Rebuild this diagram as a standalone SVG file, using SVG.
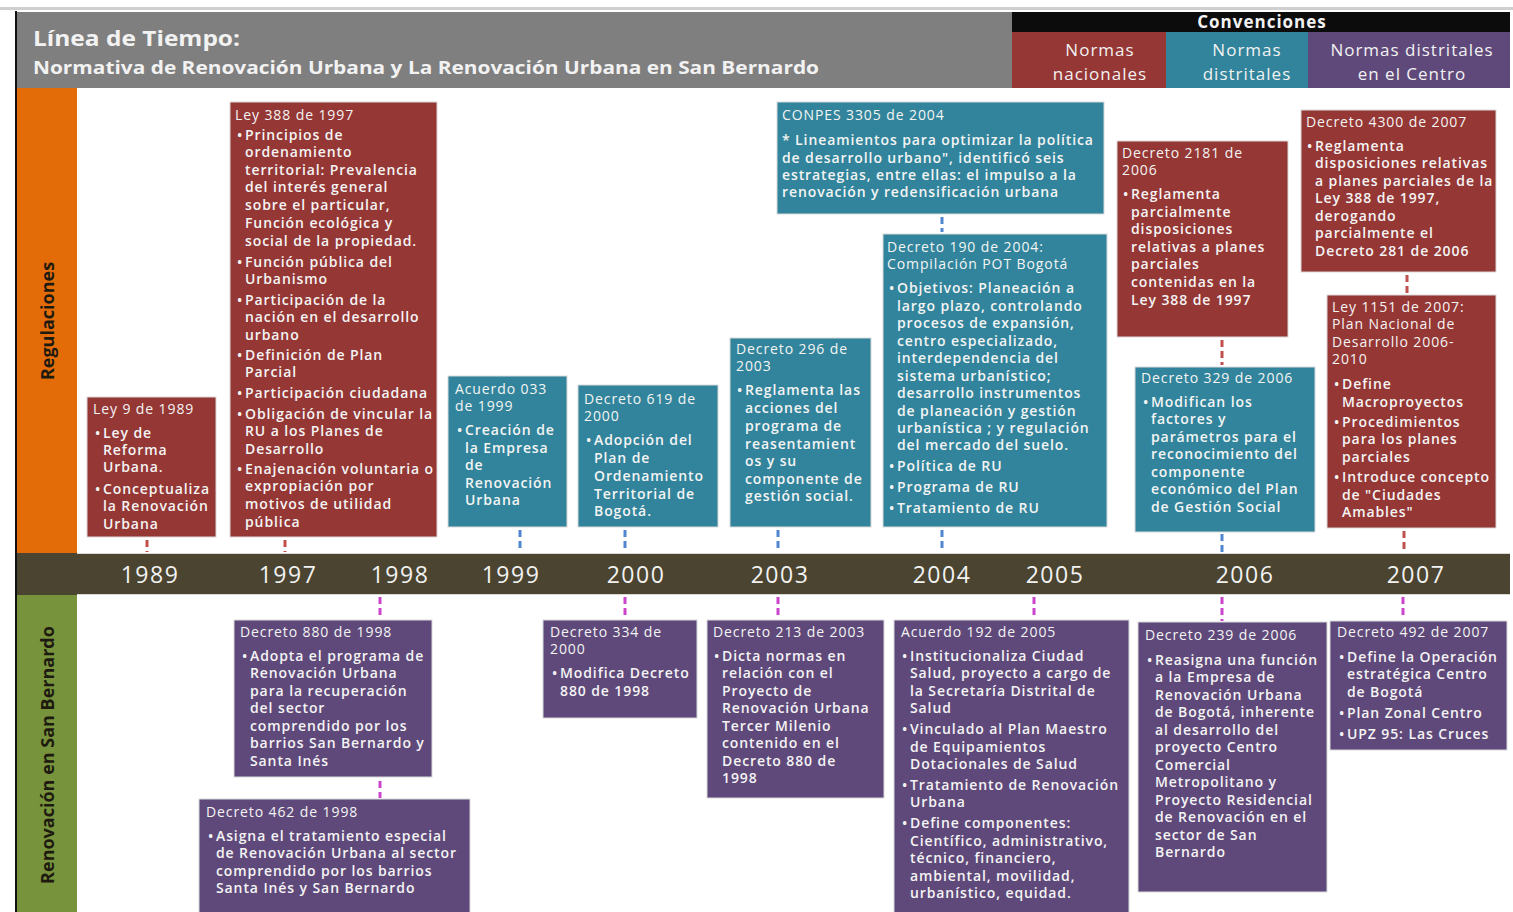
<svg xmlns="http://www.w3.org/2000/svg" width="1513" height="912" viewBox="0 0 1513 912">
<defs>
<style>
.t{font-family:"Open Sans","Liberation Sans",sans-serif;font-size:14px;letter-spacing:0.9px;fill:#f4f4f4}
.h{font-weight:400}
.b{font-weight:600}
.nat{fill:#953735;stroke:#d9d9d9;stroke-width:1}
.dis{fill:#31849b;stroke:#d9d9d9;stroke-width:1}
.cen{fill:#5f497a;stroke:#d9d9d9;stroke-width:1}
.yr{font-family:"Open Sans","Liberation Sans",sans-serif;font-size:23px;letter-spacing:1.5px;fill:#f2f2f2}
.cv{font-family:"Open Sans","Liberation Sans",sans-serif;font-size:17px;letter-spacing:1px;fill:#f2f2f2;text-anchor:middle}
.side{font-family:"Open Sans","Liberation Sans",sans-serif;font-size:18px;font-weight:700;fill:#1e1a10;text-anchor:middle}
.cr{stroke:#c0504d;stroke-width:3;stroke-dasharray:7 4;fill:none}
.cb{stroke:#4f86cf;stroke-width:3;stroke-dasharray:7 4;fill:none}
.cm{stroke:#cc44cc;stroke-width:3;stroke-dasharray:7 4;fill:none}
</style>
</defs>
<rect x="0" y="0" width="1513" height="912" fill="#ffffff"/>
<rect x="0" y="7" width="1513" height="3" fill="#cfcfcf"/>
<rect x="15" y="11" width="2" height="901" fill="#111"/>

<g id="header">
<rect x="17" y="12" width="995" height="76" fill="#7f7f7f"/>
<text x="33" y="46" font-family="Open Sans, Liberation Sans, sans-serif" font-size="21" font-weight="700" fill="#f2f2f2" textLength="207" lengthAdjust="spacingAndGlyphs">Línea de Tiempo:</text>
<text x="33" y="74" font-family="Open Sans, Liberation Sans, sans-serif" font-size="17.5" font-weight="700" fill="#f2f2f2" textLength="786" lengthAdjust="spacingAndGlyphs">Normativa de Renovación Urbana y La Renovación Urbana en San Bernardo</text>
</g>

<g id="convenciones">
<rect x="1012" y="12" width="498" height="20" fill="#0c0c0c"/>
<text x="1262" y="28" class="cv" font-weight="700" font-size="15" letter-spacing="0.5">Convenciones</text>
<rect x="1012" y="32" width="154" height="56" fill="#953735"/>
<rect x="1166" y="32" width="142" height="56" fill="#31849b"/>
<rect x="1308" y="32" width="202" height="56" fill="#5f497a"/>
<text class="cv"><tspan x="1100" y="56">Normas</tspan><tspan x="1100" y="80">nacionales</tspan></text>
<text class="cv"><tspan x="1247" y="56">Normas</tspan><tspan x="1247" y="80">distritales</tspan></text>
<text class="cv"><tspan x="1412" y="56">Normas distritales</tspan><tspan x="1412" y="80">en el Centro</tspan></text>
</g>

<g id="lane-regulaciones">
<rect x="17" y="88" width="60" height="465" fill="#e36c09"/>
<text class="side" transform="translate(54 321) rotate(-90)">Regulaciones</text>
</g>
<g id="lane-renovacion">
<rect x="17" y="595" width="60" height="317" fill="#77933c"/>
<text class="side" transform="translate(54 755) rotate(-90)">Renovación en San Bernardo</text>
</g>

<g id="timeline">
<rect x="17" y="553" width="1493" height="42" fill="#4a4430"/>
<rect x="77" y="553" width="1433" height="1" fill="#d8d8d0"/>
<rect x="77" y="594" width="1433" height="1" fill="#d8d8d0"/>
<g class="yr" text-anchor="middle">
<text x="150" y="583">1989</text>
<text x="288" y="583">1997</text>
<text x="400" y="583">1998</text>
<text x="511" y="583">1999</text>
<text x="636" y="583">2000</text>
<text x="780" y="583">2003</text>
<text x="942" y="583">2004</text>
<text x="1055" y="583">2005</text>
<text x="1245" y="583">2006</text>
<text x="1416" y="583">2007</text>
</g>
</g>

<g id="connectors">
<line class="cr" x1="147" y1="540" x2="147" y2="552"/>
<line class="cr" x1="285" y1="540" x2="285" y2="552"/>
<line class="cb" x1="520" y1="530" x2="520" y2="552"/>
<line class="cb" x1="625" y1="530" x2="625" y2="552"/>
<line class="cb" x1="778" y1="530" x2="778" y2="552"/>
<line class="cb" x1="942" y1="217" x2="942" y2="232"/>
<line class="cb" x1="942" y1="530" x2="942" y2="552"/>
<line class="cr" x1="1222" y1="340" x2="1222" y2="365"/>
<line class="cb" x1="1222" y1="534" x2="1222" y2="552"/>
<line class="cr" x1="1407" y1="275" x2="1407" y2="294"/>
<line class="cr" x1="1404" y1="531" x2="1404" y2="552"/>
<line class="cm" x1="380" y1="597" x2="380" y2="618"/>
<line class="cm" x1="380" y1="781" x2="380" y2="798"/>
<line class="cm" x1="625" y1="597" x2="625" y2="618"/>
<line class="cm" x1="778" y1="597" x2="778" y2="618"/>
<line class="cm" x1="1034" y1="597" x2="1034" y2="618"/>
<line class="cm" x1="1222" y1="597" x2="1222" y2="621"/>
<line class="cm" x1="1403" y1="597" x2="1403" y2="619"/>
</g>

<g id="ley9-1989">
<rect class="nat" x="87" y="397" width="129" height="140"/>
<text class="t h" x="93" y="414">Ley 9 de 1989</text>
<text class="t b"><tspan x="95" y="438">•</tspan><tspan x="103">Ley de</tspan><tspan x="103" y="455">Reforma</tspan><tspan x="103" y="472">Urbana.</tspan><tspan x="95" y="494">•</tspan><tspan x="103">Conceptualiza</tspan><tspan x="103" y="511">la Renovación</tspan><tspan x="103" y="529">Urbana</tspan></text>
</g>

<g id="ley388-1997">
<rect class="nat" x="230" y="102" width="207" height="435"/>
<text class="t h" x="235" y="120">Ley 388 de 1997</text>
<text class="t b"><tspan x="237" y="140">•</tspan><tspan x="245">Principios de</tspan><tspan x="245" y="157">ordenamiento</tspan><tspan x="245" y="175">territorial: Prevalencia</tspan><tspan x="245" y="192">del interés general</tspan><tspan x="245" y="210">sobre el particular,</tspan><tspan x="245" y="228">Función ecológica y</tspan><tspan x="245" y="246">social de la propiedad.</tspan><tspan x="237" y="267">•</tspan><tspan x="245">Función pública del</tspan><tspan x="245" y="284">Urbanismo</tspan><tspan x="237" y="305">•</tspan><tspan x="245">Participación de la</tspan><tspan x="245" y="322">nación en el desarrollo</tspan><tspan x="245" y="340">urbano</tspan><tspan x="237" y="360">•</tspan><tspan x="245">Definición de Plan</tspan><tspan x="245" y="377">Parcial</tspan><tspan x="237" y="398">•</tspan><tspan x="245">Participación ciudadana</tspan><tspan x="237" y="419">•</tspan><tspan x="245">Obligación de vincular la</tspan><tspan x="245" y="436">RU a los Planes de</tspan><tspan x="245" y="454">Desarrollo</tspan><tspan x="237" y="474">•</tspan><tspan x="245">Enajenación voluntaria o</tspan><tspan x="245" y="491">expropiación por</tspan><tspan x="245" y="509">motivos de utilidad</tspan><tspan x="245" y="527">pública</tspan></text>
</g>

<g id="acuerdo033-1999">
<rect class="dis" x="448" y="376" width="119" height="151"/>
<text class="t h"><tspan x="455" y="394">Acuerdo 033</tspan><tspan x="455" y="411">de 1999</tspan></text>
<text class="t b"><tspan x="457" y="435">•</tspan><tspan x="465">Creación de</tspan><tspan x="465" y="453">la Empresa</tspan><tspan x="465" y="470">de</tspan><tspan x="465" y="488">Renovación</tspan><tspan x="465" y="505">Urbana</tspan></text>
</g>

<g id="decreto619-2000">
<rect class="dis" x="578" y="385" width="140" height="142"/>
<text class="t h"><tspan x="584" y="404">Decreto 619 de</tspan><tspan x="584" y="421">2000</tspan></text>
<text class="t b"><tspan x="586" y="445">•</tspan><tspan x="594">Adopción del</tspan><tspan x="594" y="463">Plan de</tspan><tspan x="594" y="481">Ordenamiento</tspan><tspan x="594" y="499">Territorial de</tspan><tspan x="594" y="516">Bogotá.</tspan></text>
</g>

<g id="decreto296-2003">
<rect class="dis" x="730" y="338" width="141" height="189"/>
<text class="t h"><tspan x="736" y="354">Decreto 296 de</tspan><tspan x="736" y="371">2003</tspan></text>
<text class="t b"><tspan x="737" y="395">•</tspan><tspan x="745">Reglamenta las</tspan><tspan x="745" y="413">acciones del</tspan><tspan x="745" y="431">programa de</tspan><tspan x="745" y="449">reasentamient</tspan><tspan x="745" y="466">os y su</tspan><tspan x="745" y="484">componente de</tspan><tspan x="745" y="501">gestión social.</tspan></text>
</g>

<g id="conpes3305-2004">
<rect class="dis" x="777" y="102" width="327" height="112"/>
<text class="t h" x="782" y="120">CONPES 3305 de 2004</text>
<text class="t b"><tspan x="782" y="145">* Lineamientos para optimizar la política</tspan><tspan x="782" y="163">de desarrollo urbano", identificó seis</tspan><tspan x="782" y="180">estrategias, entre ellas: el impulso a la</tspan><tspan x="782" y="197">renovación y redensificación urbana</tspan></text>
</g>

<g id="decreto190-2004">
<rect class="dis" x="883" y="234" width="224" height="293"/>
<text class="t h"><tspan x="887" y="252">Decreto 190 de 2004:</tspan><tspan x="887" y="269">Compilación POT Bogotá</tspan></text>
<text class="t b"><tspan x="889" y="293">•</tspan><tspan x="897">Objetivos: Planeación a</tspan><tspan x="897" y="311">largo plazo, controlando</tspan><tspan x="897" y="328">procesos de expansión,</tspan><tspan x="897" y="346">centro especializado,</tspan><tspan x="897" y="363">interdependencia del</tspan><tspan x="897" y="381">sistema urbanístico;</tspan><tspan x="897" y="398">desarrollo instrumentos</tspan><tspan x="897" y="416">de planeación y gestión</tspan><tspan x="897" y="433">urbanística ; y regulación</tspan><tspan x="897" y="450">del mercado del suelo.</tspan><tspan x="889" y="471">•</tspan><tspan x="897">Política de RU</tspan><tspan x="889" y="492">•</tspan><tspan x="897">Programa de RU</tspan><tspan x="889" y="513">•</tspan><tspan x="897">Tratamiento de RU</tspan></text>
</g>

<g id="decreto2181-2006">
<rect class="nat" x="1117" y="141" width="171" height="196"/>
<text class="t h"><tspan x="1122" y="158">Decreto 2181 de</tspan><tspan x="1122" y="175">2006</tspan></text>
<text class="t b"><tspan x="1123" y="199">•</tspan><tspan x="1131">Reglamenta</tspan><tspan x="1131" y="217">parcialmente</tspan><tspan x="1131" y="234">disposiciones</tspan><tspan x="1131" y="252">relativas a planes</tspan><tspan x="1131" y="269">parciales</tspan><tspan x="1131" y="287">contenidas en la</tspan><tspan x="1131" y="305">Ley 388 de 1997</tspan></text>
</g>

<g id="decreto329-2006">
<rect class="dis" x="1135" y="367" width="180" height="165"/>
<text class="t h" x="1141" y="383">Decreto 329 de 2006</text>
<text class="t b"><tspan x="1143" y="407">•</tspan><tspan x="1151">Modifican los</tspan><tspan x="1151" y="424">factores y</tspan><tspan x="1151" y="442">parámetros para el</tspan><tspan x="1151" y="459">reconocimiento del</tspan><tspan x="1151" y="477">componente</tspan><tspan x="1151" y="494">económico del Plan</tspan><tspan x="1151" y="512">de Gestión Social</tspan></text>
</g>

<g id="decreto4300-2007">
<rect class="nat" x="1301" y="110" width="195" height="162"/>
<text class="t h" x="1306" y="127">Decreto 4300 de 2007</text>
<text class="t b"><tspan x="1307" y="151">•</tspan><tspan x="1315">Reglamenta</tspan><tspan x="1315" y="168">disposiciones relativas</tspan><tspan x="1315" y="186">a planes parciales de la</tspan><tspan x="1315" y="203">Ley 388 de 1997,</tspan><tspan x="1315" y="221">derogando</tspan><tspan x="1315" y="238">parcialmente el</tspan><tspan x="1315" y="256">Decreto 281 de 2006</tspan></text>
</g>

<g id="ley1151-2007">
<rect class="nat" x="1327" y="295" width="169" height="233"/>
<text class="t h"><tspan x="1332" y="312">Ley 1151 de 2007:</tspan><tspan x="1332" y="329">Plan Nacional de</tspan><tspan x="1332" y="347">Desarrollo 2006-</tspan><tspan x="1332" y="364">2010</tspan></text>
<text class="t b"><tspan x="1334" y="389">•</tspan><tspan x="1342">Define</tspan><tspan x="1342" y="407">Macroproyectos</tspan><tspan x="1334" y="427">•</tspan><tspan x="1342">Procedimientos</tspan><tspan x="1342" y="444">para los planes</tspan><tspan x="1342" y="462">parciales</tspan><tspan x="1334" y="482">•</tspan><tspan x="1342">Introduce concepto</tspan><tspan x="1342" y="500">de "Ciudades</tspan><tspan x="1342" y="517">Amables"</tspan></text>
</g>

<g id="decreto880-1998">
<rect class="cen" x="234" y="620" width="198" height="157"/>
<text class="t h" x="240" y="637">Decreto 880 de 1998</text>
<text class="t b"><tspan x="242" y="661">•</tspan><tspan x="250">Adopta el programa de</tspan><tspan x="250" y="678">Renovación Urbana</tspan><tspan x="250" y="696">para la recuperación</tspan><tspan x="250" y="713">del sector</tspan><tspan x="250" y="731">comprendido por los</tspan><tspan x="250" y="748">barrios San Bernardo y</tspan><tspan x="250" y="766">Santa Inés</tspan></text>
</g>

<g id="decreto462-1998">
<rect class="cen" x="199" y="799" width="271" height="120"/>
<text class="t h" x="206" y="817">Decreto 462 de 1998</text>
<text class="t b"><tspan x="208" y="841">•</tspan><tspan x="216">Asigna el tratamiento especial</tspan><tspan x="216" y="858">de Renovación Urbana al sector</tspan><tspan x="216" y="876">comprendido por los barrios</tspan><tspan x="216" y="893">Santa Inés y San Bernardo</tspan></text>
</g>

<g id="decreto334-2000">
<rect class="cen" x="543" y="620" width="154" height="98"/>
<text class="t h"><tspan x="550" y="637">Decreto 334 de</tspan><tspan x="550" y="654">2000</tspan></text>
<text class="t b"><tspan x="552" y="678">•</tspan><tspan x="560">Modifica Decreto</tspan><tspan x="560" y="696">880 de 1998</tspan></text>
</g>

<g id="decreto213-2003">
<rect class="cen" x="707" y="620" width="177" height="178"/>
<text class="t h" x="713" y="637">Decreto 213 de 2003</text>
<text class="t b"><tspan x="714" y="661">•</tspan><tspan x="722">Dicta normas en</tspan><tspan x="722" y="678">relación con el</tspan><tspan x="722" y="696">Proyecto de</tspan><tspan x="722" y="713">Renovación Urbana</tspan><tspan x="722" y="731">Tercer Milenio</tspan><tspan x="722" y="748">contenido en el</tspan><tspan x="722" y="766">Decreto 880 de</tspan><tspan x="722" y="783">1998</tspan></text>
</g>

<g id="acuerdo192-2005">
<rect class="cen" x="894" y="620" width="235" height="299"/>
<text class="t h" x="901" y="637">Acuerdo 192 de 2005</text>
<text class="t b"><tspan x="902" y="661">•</tspan><tspan x="910">Institucionaliza Ciudad</tspan><tspan x="910" y="678">Salud, proyecto a cargo de</tspan><tspan x="910" y="696">la Secretaría Distrital de</tspan><tspan x="910" y="713">Salud</tspan><tspan x="902" y="734">•</tspan><tspan x="910">Vinculado al Plan Maestro</tspan><tspan x="910" y="752">de Equipamientos</tspan><tspan x="910" y="769">Dotacionales de Salud</tspan><tspan x="902" y="790">•</tspan><tspan x="910">Tratamiento de Renovación</tspan><tspan x="910" y="807">Urbana</tspan><tspan x="902" y="828">•</tspan><tspan x="910">Define componentes:</tspan><tspan x="910" y="846">Científico, administrativo,</tspan><tspan x="910" y="863">técnico, financiero,</tspan><tspan x="910" y="881">ambiental, movilidad,</tspan><tspan x="910" y="898">urbanístico, equidad.</tspan></text>
</g>

<g id="decreto239-2006">
<rect class="cen" x="1138" y="622" width="189" height="270"/>
<text class="t h" x="1145" y="640">Decreto 239 de 2006</text>
<text class="t b"><tspan x="1147" y="665">•</tspan><tspan x="1155">Reasigna una función</tspan><tspan x="1155" y="682">a la Empresa de</tspan><tspan x="1155" y="700">Renovación Urbana</tspan><tspan x="1155" y="717">de Bogotá, inherente</tspan><tspan x="1155" y="735">al desarrollo del</tspan><tspan x="1155" y="752">proyecto Centro</tspan><tspan x="1155" y="770">Comercial</tspan><tspan x="1155" y="787">Metropolitano y</tspan><tspan x="1155" y="805">Proyecto Residencial</tspan><tspan x="1155" y="822">de Renovación en el</tspan><tspan x="1155" y="840">sector de San</tspan><tspan x="1155" y="857">Bernardo</tspan></text>
</g>

<g id="decreto492-2007">
<rect class="cen" x="1330" y="621" width="177" height="129"/>
<text class="t h" x="1337" y="637">Decreto 492 de 2007</text>
<text class="t b"><tspan x="1339" y="662">•</tspan><tspan x="1347">Define la Operación</tspan><tspan x="1347" y="679">estratégica Centro</tspan><tspan x="1347" y="697">de Bogotá</tspan><tspan x="1339" y="718">•</tspan><tspan x="1347">Plan Zonal Centro</tspan><tspan x="1339" y="739">•</tspan><tspan x="1347">UPZ 95: Las Cruces</tspan></text>
</g>
</svg>
